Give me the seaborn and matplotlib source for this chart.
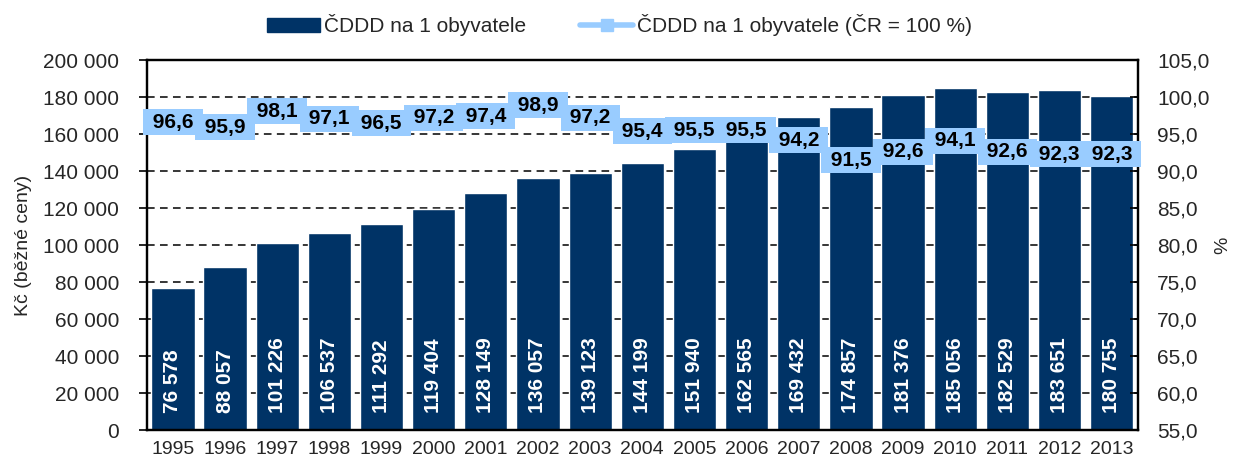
import numpy as np
import pandas as pd
import matplotlib
matplotlib.use("Agg")
import matplotlib.pyplot as plt
from matplotlib.patches import Patch
from matplotlib.lines import Line2D
import seaborn as sns

# data
years = ["1995", "1996", "1997", "1998", "1999", "2000", "2001", "2002", "2003", "2004",
         "2005", "2006", "2007", "2008", "2009", "2010", "2011", "2012", "2013"]
kc_per_person = [76578, 88057, 101226, 106537, 111292, 119404, 128149, 136057, 139123, 144199,
                 151940, 162565, 169432, 174857, 181376, 185056, 182529, 183651, 180755]
pct_of_cr = [96.6, 95.9, 98.1, 97.1, 96.5, 97.2, 97.4, 98.9, 97.2, 95.4,
             95.5, 95.5, 94.2, 91.5, 92.6, 94.1, 92.6, 92.3, 92.3]

bar_name = "ČDDD na 1 obyvatele"
line_name = "ČDDD na 1 obyvatele (ČR = 100 %)"

navy = "#003366"
light = "#99CCFF"

sns.set_style("white")
plt.rcParams["font.family"] = ["Liberation Sans", "DejaVu Sans"]
plt.rcParams["font.size"] = 15

df = pd.DataFrame({"year": years, "kc": kc_per_person, "pct": pct_of_cr})
df["pos"] = np.arange(len(df))

fig = plt.figure(figsize=(12.34, 4.66), dpi=100)
ax = fig.add_axes([0.119, 0.077, 0.803, 0.794])

sns.barplot(data=df, x="year", y="kc", color=navy, saturation=1, width=0.83, ax=ax)
for p in ax.patches:
    p.set_zorder(2)
ax.set_xlim(-0.5, len(years) - 0.5)
ax.set_ylim(0, 200000)
ax.set_yticks(np.arange(0, 200001, 20000))
ax.set_yticklabels([f"{v:,}".replace(",", " ") for v in range(0, 200001, 20000)])
ax.set_xlabel("")
ax.set_ylabel("Kč (běžné ceny)", fontsize=14, labelpad=8)

# dashed gridlines behind the bars
for v in range(20000, 200000, 20000):
    ax.axhline(v, color="black", linestyle=(0, (5, 3.5)), linewidth=1.1, zorder=1)

# x ticks between categories
ax.set_xticks(np.arange(len(years)))
ax.set_xticklabels(years)
ax.set_xticks(np.arange(-0.5, len(years), 1), minor=True)
ax.tick_params(axis="x", which="major", length=0, pad=8, labelsize=14)
ax.tick_params(axis="x", which="minor", length=6, width=1.2, direction="inout", color="black")
ax.tick_params(axis="y", length=6, width=1.2, direction="out", color="black", labelsize=15,
               left=True, pad=14)

for s in ax.spines.values():
    s.set_color("black")
    s.set_linewidth(1.6)

# values inside bars
for i, v in enumerate(kc_per_person):
    ax.text(i, 9000, f"{v:,}".replace(",", " "), rotation=90, ha="center", va="bottom",
            color="white", fontweight="bold", fontsize=15, zorder=3)

ax2 = ax.twinx()
sns.lineplot(data=df, x="pos", y="pct", color=light, linewidth=4, marker="s",
             markersize=8, markeredgecolor=light, ax=ax2, zorder=3)
ax2.set_ylim(55, 105)
ax2.set_yticks(np.arange(55, 105.1, 5))
ax2.set_yticklabels([f"{v:.1f}".replace(".", ",") for v in np.arange(55, 105.1, 5)])
ax2.set_ylabel("%", fontsize=14, labelpad=3)
ax2.set_xlabel("")
ax2.set_xlim(-0.5, len(years) - 0.5)
ax2.tick_params(axis="y", length=6, width=1.2, direction="in", color="black", labelsize=15,
                right=True, pad=14)
for s in ax2.spines.values():
    s.set_color("black")
    s.set_linewidth(1.6)

for i, v in enumerate(pct_of_cr):
    ax2.text(i, v, "\u00a0" + f"{v:.1f}".replace(".", ",") + "\u00a0", ha="center", va="center",
             fontweight="bold", fontsize=15, color="black", zorder=5,
             bbox=dict(boxstyle="square,pad=0.17", facecolor=light, edgecolor="none"))

handles = [Patch(facecolor=navy, edgecolor=navy),
           Line2D([0], [0], color=light, linewidth=4, marker="s", markersize=8)]
fig.legend(handles, [bar_name, line_name], loc="center", bbox_to_anchor=(0.502, 0.946),
           ncol=2, frameon=False, fontsize=15, handlelength=2.55, handleheight=0.7,
           handletextpad=0.2, columnspacing=2.6)

fig.savefig("out.png", dpi=100)
